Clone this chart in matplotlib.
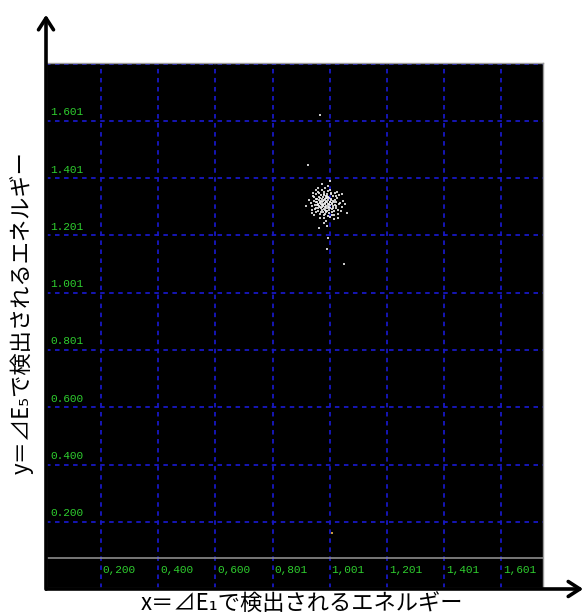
import matplotlib.pyplot as plt

plt.rcParams['font.family'] = ['Noto Sans CJK JP', 'DejaVu Sans']

# grid positions and labels as printed by the analyser software
x_ticks = [0.200, 0.400, 0.600, 0.801, 1.001, 1.201, 1.401, 1.601]
x_tick_labels = ["0,200", "0,400", "0,600", "0,801", "1,001", "1,201", "1,401", "1,601"]
y_ticks = [0.200, 0.400, 0.600, 0.801, 1.001, 1.201, 1.401, 1.601, 1.801]
y_tick_labels = ["0.200", "0.400", "0.600", "0.801", "1.001", "1.201", "1.401", "1.601", ""]
baseline_y = 0.073

# coincidence events: energy in detector 1 (x) vs detector 5 (y)
e1 = [0.985, 0.972, 0.998, 0.961, 1.012, 0.979, 0.991, 0.954, 1.021, 0.968,
      1.004, 0.983, 0.947, 1.031, 0.976, 0.993, 0.958, 1.015, 0.988, 0.965,
      1.007, 0.981, 0.939, 1.026, 0.995, 0.971, 1.009, 0.952, 0.987, 1.018,
      0.963, 0.999, 0.977, 1.037, 0.944, 0.984, 1.002, 0.969, 1.013, 0.957,
      0.992, 0.974, 1.024, 0.948, 0.986, 1.006, 0.962, 0.997, 0.979, 1.043,
      0.934, 0.989, 1.011, 0.966, 0.981, 1.028, 0.951, 0.994, 0.973, 1.016,
      0.959, 1.001, 0.982, 0.942, 1.034, 0.975, 0.996, 1.008, 0.955, 0.988,
      0.967, 1.022, 0.978, 1.003, 0.949, 0.991, 1.019, 0.964, 0.985, 1.048,
      0.937, 0.999, 0.972, 1.014, 0.958, 0.983, 1.027, 0.946, 0.993, 0.969,
      1.005, 0.976, 1.039, 0.953, 0.987, 1.012, 0.961, 0.995, 0.979, 1.023,
      0.943, 0.990, 0.970, 1.017, 0.956, 1.000, 0.984, 1.032, 0.965, 0.997,
      0.929, 1.053, 0.982, 0.974, 1.009, 0.951, 1.030, 0.940, 1.045, 0.986,
      0.978, 0.989, 0.968, 1.003, 0.993, 0.975, 0.984, 1.010, 0.960, 0.996,
      0.980, 0.971, 1.006, 0.987, 0.964, 1.000, 0.977, 0.990, 1.020, 0.952,
      0.966, 0.924, 1.051, 0.990, 0.992, 1.061, 0.918, 1.001, 0.962, 0.994]
e5 = [1.313, 1.328, 1.301, 1.297, 1.322, 1.341, 1.287, 1.318, 1.305, 1.276,
      1.346, 1.299, 1.335, 1.289, 1.309, 1.324, 1.351, 1.271, 1.338, 1.315,
      1.294, 1.262, 1.302, 1.331, 1.357, 1.284, 1.311, 1.281, 1.319, 1.348,
      1.336, 1.278, 1.303, 1.314, 1.321, 1.366, 1.265, 1.343, 1.297, 1.308,
      1.333, 1.291, 1.318, 1.292, 1.281, 1.329, 1.325, 1.312, 1.354, 1.301,
      1.314, 1.251, 1.339, 1.301, 1.326, 1.276, 1.344, 1.295, 1.361, 1.316,
      1.287, 1.307, 1.273, 1.338, 1.343, 1.318, 1.372, 1.283, 1.329, 1.305,
      1.263, 1.296, 1.336, 1.319, 1.307, 1.346, 1.325, 1.348, 1.291, 1.321,
      1.289, 1.333, 1.307, 1.258, 1.366, 1.311, 1.352, 1.273, 1.302, 1.321,
      1.349, 1.283, 1.287, 1.296, 1.331, 1.304, 1.311, 1.268, 1.347, 1.339,
      1.349, 1.316, 1.295, 1.287, 1.319, 1.358, 1.277, 1.309, 1.332, 1.291,
      1.326, 1.312, 1.244, 1.379, 1.271, 1.359, 1.262, 1.278, 1.347, 1.298,
      1.306, 1.322, 1.317, 1.298, 1.309, 1.300, 1.327, 1.315, 1.306, 1.335,
      1.293, 1.312, 1.323, 1.285, 1.303, 1.317, 1.320, 1.340, 1.308, 1.327,
      1.620, 1.446, 1.100, 1.152, 1.235, 1.279, 1.304, 1.390, 1.225, 1.190]

# single low-energy event, drawn in a different colour
low_e1 = [1.008]
low_e5 = [0.160]

fig = plt.figure(figsize=(5.86, 6.16), dpi=100)
ax = fig.add_axes([46 / 586, 28 / 616, 497 / 586, 525 / 616])
ax.set_facecolor('black')
ax.set_xlim(0.007, 1.747)
ax.set_ylim(-0.031, 1.803)

grid_kw = dict(color='#1818c4', lw=1.3, ls=(0, (2.5, 2.5)), zorder=1)
for xv in x_ticks:
    ax.axvline(xv, **grid_kw)
for yv in y_ticks:
    ax.axhline(yv, clip_on=False, **grid_kw)

ax.axhline(baseline_y, color='#8c8c8c', lw=1.2, zorder=2)

green = '#2fcf2f'
for xv, lab in zip(x_ticks, x_tick_labels):
    ax.text(xv + 0.006, baseline_y - 0.04, lab, color=green, fontsize=8,
            family='Liberation Mono', ha='left', va='center', zorder=3)
for yv, lab in zip(y_ticks, y_tick_labels):
    ax.text(0.022, yv + 0.012, lab, color=green, fontsize=8,
            family='Liberation Mono', ha='left', va='bottom', zorder=3)

ax.scatter(e1, e5, marker='s', s=4.5, color='#eeeeee', alpha=0.85,
           linewidths=0, zorder=4)
ax.scatter(low_e1, low_e5, marker='s', s=3, color='#c89a3a',
           linewidths=0, zorder=4)

ax.set_xticks([])
ax.set_yticks([])
for side in ['top', 'right', 'bottom', 'left']:
    ax.spines[side].set_color('#9a9a9a')
    ax.spines[side].set_linewidth(1)

# axis arrows
arrow_kw = dict(arrowstyle='->,head_length=0.7,head_width=0.45', lw=2.6,
                color='black', mutation_scale=12)
ax.annotate('', xy=(46 / 586, 1 - 12 / 616), xytext=(46 / 586, 1 - 592 / 616),
            xycoords='figure fraction', textcoords='figure fraction',
            arrowprops=arrow_kw, annotation_clip=False)
ax.annotate('', xy=(586 / 586, 1 - 589 / 616), xytext=(44 / 586, 1 - 589 / 616),
            xycoords='figure fraction', textcoords='figure fraction',
            arrowprops=arrow_kw, annotation_clip=False)

fig.text(302 / 586, 1 - 604 / 616, 'x＝⊿E₁で検出されるエネルギー', fontsize=16,
         ha='center', va='center')
fig.text(22 / 586, 1 - 313 / 616, 'y＝⊿E₅で検出されるエネルギー', fontsize=16,
         ha='center', va='center', rotation=90)

fig.savefig('out.png', dpi=100)
